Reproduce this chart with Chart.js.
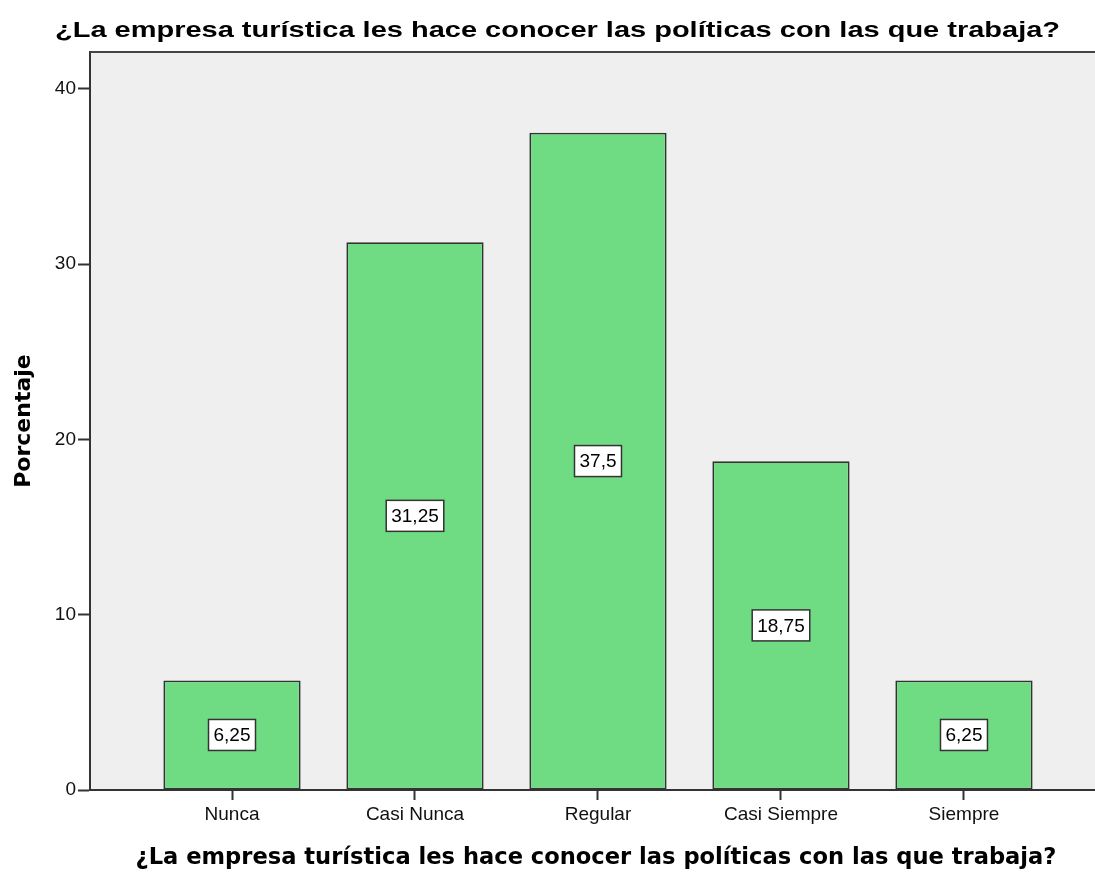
<!DOCTYPE html>
<html>
<head>
<meta charset="utf-8">
<script src="https://cdn.jsdelivr.net/npm/chart.js@4"></script>
<style>
  html, body { margin: 0; padding: 0; background: #fff; }
  #wrap { width: 1095px; height: 872px; position: relative; }
</style>
</head>
<body>
<div id="wrap"><canvas id="myChart" width="1095" height="872"></canvas></div>
<script>
const ctx = document.getElementById('myChart').getContext('2d');

// Response categories and their percentages
const categories = ['Nunca', 'Casi Nunca', 'Regular', 'Casi Siempre', 'Siempre'];
const percentages = [6.25, 31.25, 37.5, 18.75, 6.25];
const valueLabels = ['6,25', '31,25', '37,5', '18,75', '6,25'];
const yTicks = [0, 10, 20, 30, 40];

const titleText = '¿La empresa turística les hace conocer las políticas con las que trabaja?';
const yTitle = 'Porcentaje';

// Grey panel, top frame line, titles and value boxes
const spssLook = {
    id: 'spssLook',
    beforeDraw(chart) {
        const { ctx, chartArea: a } = chart;
        ctx.save();
        ctx.fillStyle = '#efefef';
        ctx.fillRect(a.left, a.top, a.right - a.left, a.bottom - a.top);
        ctx.restore();
    },
    afterDraw(chart) {
        const { ctx, chartArea: a } = chart;
        const x = chart.scales.x;
        ctx.save();
        ctx.strokeStyle = '#444';
        ctx.lineWidth = 2;
        ctx.beginPath();
        ctx.moveTo(a.left, a.top);
        ctx.lineTo(a.right, a.top);
        ctx.stroke();

        ctx.fillStyle = '#000';
        ctx.textBaseline = 'middle';

        // main title, widened to run from 55px to 1060px
        ctx.save();
        ctx.textAlign = 'left';
        ctx.font = 'bold 22.5px "Liberation Sans"';
        const sx = 1005 / ctx.measureText(titleText).width;
        ctx.translate(55, 31);
        ctx.scale(sx, 1);
        ctx.fillText(titleText, 0, 0);
        ctx.restore();

        ctx.textAlign = 'center';
        ctx.font = 'bold 22.6px "DejaVu Sans"';
        ctx.fillText(titleText, (x.getPixelForValue(0) + x.getPixelForValue(4)) / 2 - 2, 858);

        ctx.save();
        ctx.translate(24, 421);
        ctx.rotate(-Math.PI / 2);
        ctx.font = 'bold 22px "DejaVu Sans"';
        ctx.fillText(yTitle, 0, 0);
        ctx.restore();

        // value boxes in the middle of each bar
        const meta = chart.getDatasetMeta(0);
        ctx.font = '19px "Liberation Sans"';
        meta.data.forEach((bar, i) => {
            const cy = (bar.y + bar.base) / 2;
            const w = ctx.measureText(valueLabels[i]).width + 10;
            const h = 31;
            ctx.fillStyle = '#fff';
            ctx.fillRect(bar.x - w / 2, cy - h / 2, w, h);
            ctx.strokeStyle = '#333';
            ctx.lineWidth = 1.5;
            ctx.strokeRect(bar.x - w / 2, cy - h / 2, w, h);
            ctx.fillStyle = '#000';
            ctx.fillText(valueLabels[i], bar.x, cy + 1);
        });
        ctx.restore();
    }
};

const data = {
    datasets: [{
        data: percentages.map((v, i) => ({ x: i, y: v })),
        backgroundColor: '#6fdc84',
        borderColor: '#333',
        borderWidth: 1.8,
        borderSkipped: false,
        barPercentage: 0.75,
        categoryPercentage: 1
    }]
};

const options = {
    responsive: false,
    animation: false,
    layout: { padding: { top: 52, right: 0, left: 0, bottom: 0 } },
    plugins: {
        legend: { display: false },
        tooltip: { enabled: false }
    },
    scales: {
        x: {
            type: 'linear',
            offset: false,
            min: -0.776,
            max: 4.716,
            afterBuildTicks: scale => { scale.ticks = categories.map((c, i) => ({ value: i })); },
            afterFit: scale => { scale.height = 82; },
            grid: { offset: false, drawOnChartArea: false, tickLength: 10, tickColor: '#333', tickWidth: 2 },
            border: { color: '#333', width: 2 },
            ticks: {
                callback: v => categories[v],
                color: '#111',
                font: { family: 'Liberation Sans', size: 19 },
                padding: 3,
                maxRotation: 0,
                autoSkip: false
            }
        },
        y: {
            min: 0,
            max: 42.1,
            afterBuildTicks: scale => { scale.ticks = yTicks.map(v => ({ value: v })); },
            afterFit: scale => { scale.width = 90; },
            grid: { drawOnChartArea: false, tickLength: 12, tickColor: '#333', tickWidth: 2 },
            border: { color: '#333', width: 2 },
            ticks: {
                color: '#111',
                font: { family: 'Liberation Sans', size: 19 },
                padding: 2
            }
        }
    }
};

new Chart(ctx, { type: 'bar', data: data, options: options, plugins: [spssLook] });
</script>
</body>
</html>
